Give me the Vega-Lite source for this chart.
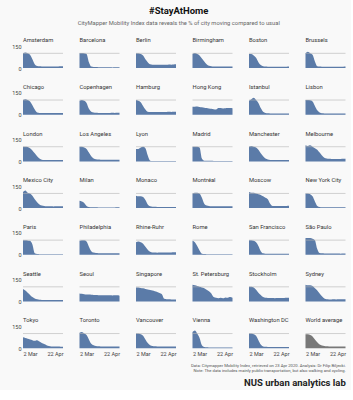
{
"$schema": "https://vega.github.io/schema/vega-lite/v6.json",
"background": "#f9f9f9",
"padding": {"left": 11, "top": 5, "right": 5, "bottom": 2},
"title": {"text": "#StayAtHome", "subtitle": "CityMapper Mobility Index data reveals the % of city moving compared to usual", "anchor": "middle", "font": "Roboto", "fontSize": 9.5, "fontWeight": "bold", "color": "#111", "subtitleFont": "Roboto", "subtitleFontSize": 5.8, "subtitleColor": "#666", "subtitlePadding": 5, "offset": 11},
"config": {"view": {"stroke": null}, "font": "Roboto"},
"vconcat": [{
"data": {"values": [
{"c":"Amsterdam","d":"2020-03-02","v":100},{"c":"Amsterdam","d":"2020-03-05","v":105},{"c":"Amsterdam","d":"2020-03-08","v":100},{"c":"Amsterdam","d":"2020-03-11","v":90},{"c":"Amsterdam","d":"2020-03-14","v":60},{"c":"Amsterdam","d":"2020-03-17","v":25},{"c":"Amsterdam","d":"2020-03-20","v":14},{"c":"Amsterdam","d":"2020-03-23","v":12},{"c":"Amsterdam","d":"2020-03-26","v":11},{"c":"Amsterdam","d":"2020-03-29","v":10},{"c":"Amsterdam","d":"2020-04-01","v":11},{"c":"Amsterdam","d":"2020-04-04","v":10},{"c":"Amsterdam","d":"2020-04-07","v":11},{"c":"Amsterdam","d":"2020-04-10","v":10},{"c":"Amsterdam","d":"2020-04-13","v":11},{"c":"Amsterdam","d":"2020-04-16","v":11},{"c":"Amsterdam","d":"2020-04-19","v":12},{"c":"Amsterdam","d":"2020-04-22","v":12},
{"c":"Barcelona","d":"2020-03-02","v":100},{"c":"Barcelona","d":"2020-03-05","v":102},{"c":"Barcelona","d":"2020-03-08","v":100},{"c":"Barcelona","d":"2020-03-11","v":95},{"c":"Barcelona","d":"2020-03-14","v":40},{"c":"Barcelona","d":"2020-03-17","v":10},{"c":"Barcelona","d":"2020-03-20","v":7},{"c":"Barcelona","d":"2020-03-23","v":6},{"c":"Barcelona","d":"2020-03-26","v":5},{"c":"Barcelona","d":"2020-03-29","v":5},{"c":"Barcelona","d":"2020-04-01","v":5},{"c":"Barcelona","d":"2020-04-04","v":5},{"c":"Barcelona","d":"2020-04-07","v":5},{"c":"Barcelona","d":"2020-04-10","v":5},{"c":"Barcelona","d":"2020-04-13","v":4},{"c":"Barcelona","d":"2020-04-16","v":5},{"c":"Barcelona","d":"2020-04-19","v":5},{"c":"Barcelona","d":"2020-04-22","v":5},
{"c":"Berlin","d":"2020-03-02","v":100},{"c":"Berlin","d":"2020-03-05","v":100},{"c":"Berlin","d":"2020-03-08","v":95},{"c":"Berlin","d":"2020-03-11","v":85},{"c":"Berlin","d":"2020-03-14","v":60},{"c":"Berlin","d":"2020-03-17","v":40},{"c":"Berlin","d":"2020-03-20","v":25},{"c":"Berlin","d":"2020-03-23","v":22},{"c":"Berlin","d":"2020-03-26","v":22},{"c":"Berlin","d":"2020-03-29","v":22},{"c":"Berlin","d":"2020-04-01","v":23},{"c":"Berlin","d":"2020-04-04","v":22},{"c":"Berlin","d":"2020-04-07","v":23},{"c":"Berlin","d":"2020-04-10","v":22},{"c":"Berlin","d":"2020-04-13","v":24},{"c":"Berlin","d":"2020-04-16","v":23},{"c":"Berlin","d":"2020-04-19","v":24},{"c":"Berlin","d":"2020-04-22","v":25},
{"c":"Birmingham","d":"2020-03-02","v":95},{"c":"Birmingham","d":"2020-03-05","v":102},{"c":"Birmingham","d":"2020-03-08","v":95},{"c":"Birmingham","d":"2020-03-11","v":85},{"c":"Birmingham","d":"2020-03-14","v":65},{"c":"Birmingham","d":"2020-03-17","v":45},{"c":"Birmingham","d":"2020-03-20","v":25},{"c":"Birmingham","d":"2020-03-23","v":15},{"c":"Birmingham","d":"2020-03-26","v":12},{"c":"Birmingham","d":"2020-03-29","v":10},{"c":"Birmingham","d":"2020-04-01","v":10},{"c":"Birmingham","d":"2020-04-04","v":10},{"c":"Birmingham","d":"2020-04-07","v":10},{"c":"Birmingham","d":"2020-04-10","v":10},{"c":"Birmingham","d":"2020-04-13","v":10},{"c":"Birmingham","d":"2020-04-16","v":10},{"c":"Birmingham","d":"2020-04-19","v":11},{"c":"Birmingham","d":"2020-04-22","v":11},
{"c":"Boston","d":"2020-03-02","v":95},{"c":"Boston","d":"2020-03-05","v":95},{"c":"Boston","d":"2020-03-08","v":85},{"c":"Boston","d":"2020-03-11","v":70},{"c":"Boston","d":"2020-03-14","v":40},{"c":"Boston","d":"2020-03-17","v":20},{"c":"Boston","d":"2020-03-20","v":12},{"c":"Boston","d":"2020-03-23","v":10},{"c":"Boston","d":"2020-03-26","v":9},{"c":"Boston","d":"2020-03-29","v":9},{"c":"Boston","d":"2020-04-01","v":9},{"c":"Boston","d":"2020-04-04","v":9},{"c":"Boston","d":"2020-04-07","v":9},{"c":"Boston","d":"2020-04-10","v":9},{"c":"Boston","d":"2020-04-13","v":9},{"c":"Boston","d":"2020-04-16","v":9},{"c":"Boston","d":"2020-04-19","v":9},{"c":"Boston","d":"2020-04-22","v":10},
{"c":"Brussels","d":"2020-03-02","v":100},{"c":"Brussels","d":"2020-03-05","v":110},{"c":"Brussels","d":"2020-03-08","v":100},{"c":"Brussels","d":"2020-03-11","v":90},{"c":"Brussels","d":"2020-03-14","v":45},{"c":"Brussels","d":"2020-03-17","v":12},{"c":"Brussels","d":"2020-03-20","v":10},{"c":"Brussels","d":"2020-03-23","v":9},{"c":"Brussels","d":"2020-03-26","v":9},{"c":"Brussels","d":"2020-03-29","v":9},{"c":"Brussels","d":"2020-04-01","v":9},{"c":"Brussels","d":"2020-04-04","v":9},{"c":"Brussels","d":"2020-04-07","v":9},{"c":"Brussels","d":"2020-04-10","v":9},{"c":"Brussels","d":"2020-04-13","v":9},{"c":"Brussels","d":"2020-04-16","v":9},{"c":"Brussels","d":"2020-04-19","v":9},{"c":"Brussels","d":"2020-04-22","v":10},
{"c":"Chicago","d":"2020-03-02","v":100},{"c":"Chicago","d":"2020-03-05","v":105},{"c":"Chicago","d":"2020-03-08","v":100},{"c":"Chicago","d":"2020-03-11","v":90},{"c":"Chicago","d":"2020-03-14","v":65},{"c":"Chicago","d":"2020-03-17","v":35},{"c":"Chicago","d":"2020-03-20","v":15},{"c":"Chicago","d":"2020-03-23","v":12},{"c":"Chicago","d":"2020-03-26","v":12},{"c":"Chicago","d":"2020-03-29","v":11},{"c":"Chicago","d":"2020-04-01","v":11},{"c":"Chicago","d":"2020-04-04","v":11},{"c":"Chicago","d":"2020-04-07","v":11},{"c":"Chicago","d":"2020-04-10","v":11},{"c":"Chicago","d":"2020-04-13","v":11},{"c":"Chicago","d":"2020-04-16","v":11},{"c":"Chicago","d":"2020-04-19","v":12},{"c":"Chicago","d":"2020-04-22","v":12},
{"c":"Copenhagen","d":"2020-03-02","v":95},{"c":"Copenhagen","d":"2020-03-05","v":100},{"c":"Copenhagen","d":"2020-03-08","v":95},{"c":"Copenhagen","d":"2020-03-11","v":80},{"c":"Copenhagen","d":"2020-03-14","v":40},{"c":"Copenhagen","d":"2020-03-17","v":20},{"c":"Copenhagen","d":"2020-03-20","v":15},{"c":"Copenhagen","d":"2020-03-23","v":13},{"c":"Copenhagen","d":"2020-03-26","v":12},{"c":"Copenhagen","d":"2020-03-29","v":12},{"c":"Copenhagen","d":"2020-04-01","v":12},{"c":"Copenhagen","d":"2020-04-04","v":12},{"c":"Copenhagen","d":"2020-04-07","v":12},{"c":"Copenhagen","d":"2020-04-10","v":12},{"c":"Copenhagen","d":"2020-04-13","v":13},{"c":"Copenhagen","d":"2020-04-16","v":12},{"c":"Copenhagen","d":"2020-04-19","v":13},{"c":"Copenhagen","d":"2020-04-22","v":13},
{"c":"Hamburg","d":"2020-03-02","v":100},{"c":"Hamburg","d":"2020-03-05","v":95},{"c":"Hamburg","d":"2020-03-08","v":85},{"c":"Hamburg","d":"2020-03-11","v":60},{"c":"Hamburg","d":"2020-03-14","v":35},{"c":"Hamburg","d":"2020-03-17","v":20},{"c":"Hamburg","d":"2020-03-20","v":18},{"c":"Hamburg","d":"2020-03-23","v":18},{"c":"Hamburg","d":"2020-03-26","v":18},{"c":"Hamburg","d":"2020-03-29","v":19},{"c":"Hamburg","d":"2020-04-01","v":19},{"c":"Hamburg","d":"2020-04-04","v":18},{"c":"Hamburg","d":"2020-04-07","v":19},{"c":"Hamburg","d":"2020-04-10","v":19},{"c":"Hamburg","d":"2020-04-13","v":20},{"c":"Hamburg","d":"2020-04-16","v":19},{"c":"Hamburg","d":"2020-04-19","v":20},{"c":"Hamburg","d":"2020-04-22","v":20},
{"c":"Hong Kong","d":"2020-03-02","v":55},{"c":"Hong Kong","d":"2020-03-05","v":55},{"c":"Hong Kong","d":"2020-03-08","v":56},{"c":"Hong Kong","d":"2020-03-11","v":53},{"c":"Hong Kong","d":"2020-03-14","v":50},{"c":"Hong Kong","d":"2020-03-17","v":48},{"c":"Hong Kong","d":"2020-03-20","v":45},{"c":"Hong Kong","d":"2020-03-23","v":42},{"c":"Hong Kong","d":"2020-03-26","v":40},{"c":"Hong Kong","d":"2020-03-29","v":38},{"c":"Hong Kong","d":"2020-04-01","v":35},{"c":"Hong Kong","d":"2020-04-04","v":45},{"c":"Hong Kong","d":"2020-04-07","v":45},{"c":"Hong Kong","d":"2020-04-10","v":43},{"c":"Hong Kong","d":"2020-04-13","v":44},{"c":"Hong Kong","d":"2020-04-16","v":45},{"c":"Hong Kong","d":"2020-04-19","v":45},{"c":"Hong Kong","d":"2020-04-22","v":44},
{"c":"Istanbul","d":"2020-03-02","v":95},{"c":"Istanbul","d":"2020-03-05","v":105},{"c":"Istanbul","d":"2020-03-08","v":115},{"c":"Istanbul","d":"2020-03-11","v":100},{"c":"Istanbul","d":"2020-03-14","v":80},{"c":"Istanbul","d":"2020-03-17","v":45},{"c":"Istanbul","d":"2020-03-20","v":20},{"c":"Istanbul","d":"2020-03-23","v":12},{"c":"Istanbul","d":"2020-03-26","v":10},{"c":"Istanbul","d":"2020-03-29","v":9},{"c":"Istanbul","d":"2020-04-01","v":9},{"c":"Istanbul","d":"2020-04-04","v":9},{"c":"Istanbul","d":"2020-04-07","v":8},{"c":"Istanbul","d":"2020-04-10","v":9},{"c":"Istanbul","d":"2020-04-13","v":9},{"c":"Istanbul","d":"2020-04-16","v":9},{"c":"Istanbul","d":"2020-04-19","v":8},{"c":"Istanbul","d":"2020-04-22","v":9},
{"c":"Lisbon","d":"2020-03-02","v":100},{"c":"Lisbon","d":"2020-03-05","v":100},{"c":"Lisbon","d":"2020-03-08","v":98},{"c":"Lisbon","d":"2020-03-11","v":90},{"c":"Lisbon","d":"2020-03-14","v":60},{"c":"Lisbon","d":"2020-03-17","v":30},{"c":"Lisbon","d":"2020-03-20","v":15},{"c":"Lisbon","d":"2020-03-23","v":10},{"c":"Lisbon","d":"2020-03-26","v":9},{"c":"Lisbon","d":"2020-03-29","v":9},{"c":"Lisbon","d":"2020-04-01","v":9},{"c":"Lisbon","d":"2020-04-04","v":8},{"c":"Lisbon","d":"2020-04-07","v":9},{"c":"Lisbon","d":"2020-04-10","v":9},{"c":"Lisbon","d":"2020-04-13","v":9},{"c":"Lisbon","d":"2020-04-16","v":9},{"c":"Lisbon","d":"2020-04-19","v":9},{"c":"Lisbon","d":"2020-04-22","v":9},
{"c":"London","d":"2020-03-02","v":100},{"c":"London","d":"2020-03-05","v":100},{"c":"London","d":"2020-03-08","v":98},{"c":"London","d":"2020-03-11","v":90},{"c":"London","d":"2020-03-14","v":75},{"c":"London","d":"2020-03-17","v":55},{"c":"London","d":"2020-03-20","v":35},{"c":"London","d":"2020-03-23","v":20},{"c":"London","d":"2020-03-26","v":12},{"c":"London","d":"2020-03-29","v":10},{"c":"London","d":"2020-04-01","v":10},{"c":"London","d":"2020-04-04","v":10},{"c":"London","d":"2020-04-07","v":10},{"c":"London","d":"2020-04-10","v":10},{"c":"London","d":"2020-04-13","v":10},{"c":"London","d":"2020-04-16","v":10},{"c":"London","d":"2020-04-19","v":10},{"c":"London","d":"2020-04-22","v":10},
{"c":"Los Angeles","d":"2020-03-02","v":100},{"c":"Los Angeles","d":"2020-03-05","v":100},{"c":"Los Angeles","d":"2020-03-08","v":95},{"c":"Los Angeles","d":"2020-03-11","v":85},{"c":"Los Angeles","d":"2020-03-14","v":60},{"c":"Los Angeles","d":"2020-03-17","v":35},{"c":"Los Angeles","d":"2020-03-20","v":20},{"c":"Los Angeles","d":"2020-03-23","v":15},{"c":"Los Angeles","d":"2020-03-26","v":13},{"c":"Los Angeles","d":"2020-03-29","v":12},{"c":"Los Angeles","d":"2020-04-01","v":12},{"c":"Los Angeles","d":"2020-04-04","v":12},{"c":"Los Angeles","d":"2020-04-07","v":12},{"c":"Los Angeles","d":"2020-04-10","v":12},{"c":"Los Angeles","d":"2020-04-13","v":12},{"c":"Los Angeles","d":"2020-04-16","v":12},{"c":"Los Angeles","d":"2020-04-19","v":12},{"c":"Los Angeles","d":"2020-04-22","v":12},
{"c":"Lyon","d":"2020-03-02","v":85},{"c":"Lyon","d":"2020-03-05","v":85},{"c":"Lyon","d":"2020-03-08","v":95},{"c":"Lyon","d":"2020-03-11","v":100},{"c":"Lyon","d":"2020-03-14","v":90},{"c":"Lyon","d":"2020-03-17","v":40},{"c":"Lyon","d":"2020-03-20","v":5},{"c":"Lyon","d":"2020-03-23","v":3},{"c":"Lyon","d":"2020-03-26","v":3},{"c":"Lyon","d":"2020-03-29","v":3},{"c":"Lyon","d":"2020-04-01","v":3},{"c":"Lyon","d":"2020-04-04","v":3},{"c":"Lyon","d":"2020-04-07","v":3},{"c":"Lyon","d":"2020-04-10","v":3},{"c":"Lyon","d":"2020-04-13","v":3},{"c":"Lyon","d":"2020-04-16","v":3},{"c":"Lyon","d":"2020-04-19","v":3},{"c":"Lyon","d":"2020-04-22","v":3},
{"c":"Madrid","d":"2020-03-02","v":100},{"c":"Madrid","d":"2020-03-05","v":100},{"c":"Madrid","d":"2020-03-08","v":100},{"c":"Madrid","d":"2020-03-11","v":95},{"c":"Madrid","d":"2020-03-14","v":20},{"c":"Madrid","d":"2020-03-17","v":5},{"c":"Madrid","d":"2020-03-20","v":4},{"c":"Madrid","d":"2020-03-23","v":4},{"c":"Madrid","d":"2020-03-26","v":4},{"c":"Madrid","d":"2020-03-29","v":3},{"c":"Madrid","d":"2020-04-01","v":3},{"c":"Madrid","d":"2020-04-04","v":3},{"c":"Madrid","d":"2020-04-07","v":3},{"c":"Madrid","d":"2020-04-10","v":3},{"c":"Madrid","d":"2020-04-13","v":3},{"c":"Madrid","d":"2020-04-16","v":3},{"c":"Madrid","d":"2020-04-19","v":3},{"c":"Madrid","d":"2020-04-22","v":3},
{"c":"Manchester","d":"2020-03-02","v":100},{"c":"Manchester","d":"2020-03-05","v":105},{"c":"Manchester","d":"2020-03-08","v":100},{"c":"Manchester","d":"2020-03-11","v":95},{"c":"Manchester","d":"2020-03-14","v":80},{"c":"Manchester","d":"2020-03-17","v":55},{"c":"Manchester","d":"2020-03-20","v":35},{"c":"Manchester","d":"2020-03-23","v":20},{"c":"Manchester","d":"2020-03-26","v":13},{"c":"Manchester","d":"2020-03-29","v":10},{"c":"Manchester","d":"2020-04-01","v":10},{"c":"Manchester","d":"2020-04-04","v":10},{"c":"Manchester","d":"2020-04-07","v":10},{"c":"Manchester","d":"2020-04-10","v":10},{"c":"Manchester","d":"2020-04-13","v":10},{"c":"Manchester","d":"2020-04-16","v":10},{"c":"Manchester","d":"2020-04-19","v":10},{"c":"Manchester","d":"2020-04-22","v":10},
{"c":"Melbourne","d":"2020-03-02","v":110},{"c":"Melbourne","d":"2020-03-05","v":105},{"c":"Melbourne","d":"2020-03-08","v":110},{"c":"Melbourne","d":"2020-03-11","v":100},{"c":"Melbourne","d":"2020-03-14","v":90},{"c":"Melbourne","d":"2020-03-17","v":80},{"c":"Melbourne","d":"2020-03-20","v":60},{"c":"Melbourne","d":"2020-03-23","v":40},{"c":"Melbourne","d":"2020-03-26","v":25},{"c":"Melbourne","d":"2020-03-29","v":20},{"c":"Melbourne","d":"2020-04-01","v":18},{"c":"Melbourne","d":"2020-04-04","v":17},{"c":"Melbourne","d":"2020-04-07","v":17},{"c":"Melbourne","d":"2020-04-10","v":17},{"c":"Melbourne","d":"2020-04-13","v":17},{"c":"Melbourne","d":"2020-04-16","v":17},{"c":"Melbourne","d":"2020-04-19","v":18},{"c":"Melbourne","d":"2020-04-22","v":18},
{"c":"Mexico City","d":"2020-03-02","v":110},{"c":"Mexico City","d":"2020-03-05","v":120},{"c":"Mexico City","d":"2020-03-08","v":105},{"c":"Mexico City","d":"2020-03-11","v":100},{"c":"Mexico City","d":"2020-03-14","v":85},{"c":"Mexico City","d":"2020-03-17","v":60},{"c":"Mexico City","d":"2020-03-20","v":40},{"c":"Mexico City","d":"2020-03-23","v":25},{"c":"Mexico City","d":"2020-03-26","v":18},{"c":"Mexico City","d":"2020-03-29","v":15},{"c":"Mexico City","d":"2020-04-01","v":13},{"c":"Mexico City","d":"2020-04-04","v":12},{"c":"Mexico City","d":"2020-04-07","v":12},{"c":"Mexico City","d":"2020-04-10","v":11},{"c":"Mexico City","d":"2020-04-13","v":12},{"c":"Mexico City","d":"2020-04-16","v":12},{"c":"Mexico City","d":"2020-04-19","v":12},{"c":"Mexico City","d":"2020-04-22","v":12},
{"c":"Milan","d":"2020-03-02","v":50},{"c":"Milan","d":"2020-03-05","v":45},{"c":"Milan","d":"2020-03-08","v":35},{"c":"Milan","d":"2020-03-11","v":15},{"c":"Milan","d":"2020-03-14","v":7},{"c":"Milan","d":"2020-03-17","v":5},{"c":"Milan","d":"2020-03-20","v":5},{"c":"Milan","d":"2020-03-23","v":5},{"c":"Milan","d":"2020-03-26","v":4},{"c":"Milan","d":"2020-03-29","v":4},{"c":"Milan","d":"2020-04-01","v":4},{"c":"Milan","d":"2020-04-04","v":4},{"c":"Milan","d":"2020-04-07","v":4},{"c":"Milan","d":"2020-04-10","v":4},{"c":"Milan","d":"2020-04-13","v":4},{"c":"Milan","d":"2020-04-16","v":4},{"c":"Milan","d":"2020-04-19","v":5},{"c":"Milan","d":"2020-04-22","v":5},
{"c":"Monaco","d":"2020-03-02","v":85},{"c":"Monaco","d":"2020-03-05","v":80},{"c":"Monaco","d":"2020-03-08","v":80},{"c":"Monaco","d":"2020-03-11","v":75},{"c":"Monaco","d":"2020-03-14","v":55},{"c":"Monaco","d":"2020-03-17","v":25},{"c":"Monaco","d":"2020-03-20","v":12},{"c":"Monaco","d":"2020-03-23","v":10},{"c":"Monaco","d":"2020-03-26","v":9},{"c":"Monaco","d":"2020-03-29","v":8},{"c":"Monaco","d":"2020-04-01","v":7},{"c":"Monaco","d":"2020-04-04","v":7},{"c":"Monaco","d":"2020-04-07","v":7},{"c":"Monaco","d":"2020-04-10","v":7},{"c":"Monaco","d":"2020-04-13","v":7},{"c":"Monaco","d":"2020-04-16","v":7},{"c":"Monaco","d":"2020-04-19","v":7},{"c":"Monaco","d":"2020-04-22","v":8},
{"c":"Montréal","d":"2020-03-02","v":100},{"c":"Montréal","d":"2020-03-05","v":105},{"c":"Montréal","d":"2020-03-08","v":105},{"c":"Montréal","d":"2020-03-11","v":100},{"c":"Montréal","d":"2020-03-14","v":70},{"c":"Montréal","d":"2020-03-17","v":30},{"c":"Montréal","d":"2020-03-20","v":18},{"c":"Montréal","d":"2020-03-23","v":15},{"c":"Montréal","d":"2020-03-26","v":13},{"c":"Montréal","d":"2020-03-29","v":12},{"c":"Montréal","d":"2020-04-01","v":12},{"c":"Montréal","d":"2020-04-04","v":12},{"c":"Montréal","d":"2020-04-07","v":12},{"c":"Montréal","d":"2020-04-10","v":12},{"c":"Montréal","d":"2020-04-13","v":12},{"c":"Montréal","d":"2020-04-16","v":12},{"c":"Montréal","d":"2020-04-19","v":12},{"c":"Montréal","d":"2020-04-22","v":12},
{"c":"Moscow","d":"2020-03-02","v":110},{"c":"Moscow","d":"2020-03-05","v":105},{"c":"Moscow","d":"2020-03-08","v":105},{"c":"Moscow","d":"2020-03-11","v":100},{"c":"Moscow","d":"2020-03-14","v":95},{"c":"Moscow","d":"2020-03-17","v":90},{"c":"Moscow","d":"2020-03-20","v":80},{"c":"Moscow","d":"2020-03-23","v":70},{"c":"Moscow","d":"2020-03-26","v":60},{"c":"Moscow","d":"2020-03-29","v":30},{"c":"Moscow","d":"2020-04-01","v":15},{"c":"Moscow","d":"2020-04-04","v":15},{"c":"Moscow","d":"2020-04-07","v":14},{"c":"Moscow","d":"2020-04-10","v":14},{"c":"Moscow","d":"2020-04-13","v":15},{"c":"Moscow","d":"2020-04-16","v":15},{"c":"Moscow","d":"2020-04-19","v":15},{"c":"Moscow","d":"2020-04-22","v":16},
{"c":"New York City","d":"2020-03-02","v":100},{"c":"New York City","d":"2020-03-05","v":100},{"c":"New York City","d":"2020-03-08","v":95},{"c":"New York City","d":"2020-03-11","v":80},{"c":"New York City","d":"2020-03-14","v":45},{"c":"New York City","d":"2020-03-17","v":15},{"c":"New York City","d":"2020-03-20","v":8},{"c":"New York City","d":"2020-03-23","v":6},{"c":"New York City","d":"2020-03-26","v":5},{"c":"New York City","d":"2020-03-29","v":5},{"c":"New York City","d":"2020-04-01","v":5},{"c":"New York City","d":"2020-04-04","v":5},{"c":"New York City","d":"2020-04-07","v":5},{"c":"New York City","d":"2020-04-10","v":5},{"c":"New York City","d":"2020-04-13","v":5},{"c":"New York City","d":"2020-04-16","v":5},{"c":"New York City","d":"2020-04-19","v":5},{"c":"New York City","d":"2020-04-22","v":5},
{"c":"Paris","d":"2020-03-02","v":100},{"c":"Paris","d":"2020-03-05","v":100},{"c":"Paris","d":"2020-03-08","v":98},{"c":"Paris","d":"2020-03-11","v":95},{"c":"Paris","d":"2020-03-14","v":70},{"c":"Paris","d":"2020-03-17","v":10},{"c":"Paris","d":"2020-03-20","v":5},{"c":"Paris","d":"2020-03-23","v":4},{"c":"Paris","d":"2020-03-26","v":4},{"c":"Paris","d":"2020-03-29","v":4},{"c":"Paris","d":"2020-04-01","v":4},{"c":"Paris","d":"2020-04-04","v":4},{"c":"Paris","d":"2020-04-07","v":4},{"c":"Paris","d":"2020-04-10","v":4},{"c":"Paris","d":"2020-04-13","v":4},{"c":"Paris","d":"2020-04-16","v":4},{"c":"Paris","d":"2020-04-19","v":4},{"c":"Paris","d":"2020-04-22","v":4},
{"c":"Philadelphia","d":"2020-03-02","v":95},{"c":"Philadelphia","d":"2020-03-05","v":100},{"c":"Philadelphia","d":"2020-03-08","v":100},{"c":"Philadelphia","d":"2020-03-11","v":90},{"c":"Philadelphia","d":"2020-03-14","v":55},{"c":"Philadelphia","d":"2020-03-17","v":25},{"c":"Philadelphia","d":"2020-03-20","v":15},{"c":"Philadelphia","d":"2020-03-23","v":12},{"c":"Philadelphia","d":"2020-03-26","v":11},{"c":"Philadelphia","d":"2020-03-29","v":10},{"c":"Philadelphia","d":"2020-04-01","v":10},{"c":"Philadelphia","d":"2020-04-04","v":10},{"c":"Philadelphia","d":"2020-04-07","v":10},{"c":"Philadelphia","d":"2020-04-10","v":10},{"c":"Philadelphia","d":"2020-04-13","v":10},{"c":"Philadelphia","d":"2020-04-16","v":10},{"c":"Philadelphia","d":"2020-04-19","v":10},{"c":"Philadelphia","d":"2020-04-22","v":10},
{"c":"Rhine-Ruhr","d":"2020-03-02","v":85},{"c":"Rhine-Ruhr","d":"2020-03-05","v":90},{"c":"Rhine-Ruhr","d":"2020-03-08","v":85},{"c":"Rhine-Ruhr","d":"2020-03-11","v":75},{"c":"Rhine-Ruhr","d":"2020-03-14","v":55},{"c":"Rhine-Ruhr","d":"2020-03-17","v":35},{"c":"Rhine-Ruhr","d":"2020-03-20","v":20},{"c":"Rhine-Ruhr","d":"2020-03-23","v":15},{"c":"Rhine-Ruhr","d":"2020-03-26","v":15},{"c":"Rhine-Ruhr","d":"2020-03-29","v":14},{"c":"Rhine-Ruhr","d":"2020-04-01","v":15},{"c":"Rhine-Ruhr","d":"2020-04-04","v":15},{"c":"Rhine-Ruhr","d":"2020-04-07","v":15},{"c":"Rhine-Ruhr","d":"2020-04-10","v":16},{"c":"Rhine-Ruhr","d":"2020-04-13","v":15},{"c":"Rhine-Ruhr","d":"2020-04-16","v":16},{"c":"Rhine-Ruhr","d":"2020-04-19","v":17},{"c":"Rhine-Ruhr","d":"2020-04-22","v":18},
{"c":"Rome","d":"2020-03-02","v":95},{"c":"Rome","d":"2020-03-05","v":85},{"c":"Rome","d":"2020-03-08","v":60},{"c":"Rome","d":"2020-03-11","v":30},{"c":"Rome","d":"2020-03-14","v":8},{"c":"Rome","d":"2020-03-17","v":5},{"c":"Rome","d":"2020-03-20","v":4},{"c":"Rome","d":"2020-03-23","v":4},{"c":"Rome","d":"2020-03-26","v":4},{"c":"Rome","d":"2020-03-29","v":4},{"c":"Rome","d":"2020-04-01","v":4},{"c":"Rome","d":"2020-04-04","v":4},{"c":"Rome","d":"2020-04-07","v":4},{"c":"Rome","d":"2020-04-10","v":4},{"c":"Rome","d":"2020-04-13","v":4},{"c":"Rome","d":"2020-04-16","v":4},{"c":"Rome","d":"2020-04-19","v":4},{"c":"Rome","d":"2020-04-22","v":4},
{"c":"San Francisco","d":"2020-03-02","v":100},{"c":"San Francisco","d":"2020-03-05","v":100},{"c":"San Francisco","d":"2020-03-08","v":95},{"c":"San Francisco","d":"2020-03-11","v":85},{"c":"San Francisco","d":"2020-03-14","v":60},{"c":"San Francisco","d":"2020-03-17","v":25},{"c":"San Francisco","d":"2020-03-20","v":10},{"c":"San Francisco","d":"2020-03-23","v":8},{"c":"San Francisco","d":"2020-03-26","v":7},{"c":"San Francisco","d":"2020-03-29","v":7},{"c":"San Francisco","d":"2020-04-01","v":7},{"c":"San Francisco","d":"2020-04-04","v":7},{"c":"San Francisco","d":"2020-04-07","v":7},{"c":"San Francisco","d":"2020-04-10","v":7},{"c":"San Francisco","d":"2020-04-13","v":7},{"c":"San Francisco","d":"2020-04-16","v":7},{"c":"San Francisco","d":"2020-04-19","v":7},{"c":"San Francisco","d":"2020-04-22","v":7},
{"c":"São Paulo","d":"2020-03-02","v":115},{"c":"São Paulo","d":"2020-03-05","v":115},{"c":"São Paulo","d":"2020-03-08","v":115},{"c":"São Paulo","d":"2020-03-11","v":110},{"c":"São Paulo","d":"2020-03-14","v":100},{"c":"São Paulo","d":"2020-03-17","v":40},{"c":"São Paulo","d":"2020-03-20","v":12},{"c":"São Paulo","d":"2020-03-23","v":10},{"c":"São Paulo","d":"2020-03-26","v":9},{"c":"São Paulo","d":"2020-03-29","v":9},{"c":"São Paulo","d":"2020-04-01","v":9},{"c":"São Paulo","d":"2020-04-04","v":9},{"c":"São Paulo","d":"2020-04-07","v":9},{"c":"São Paulo","d":"2020-04-10","v":9},{"c":"São Paulo","d":"2020-04-13","v":9},{"c":"São Paulo","d":"2020-04-16","v":8},{"c":"São Paulo","d":"2020-04-19","v":9},{"c":"São Paulo","d":"2020-04-22","v":9},
{"c":"Seattle","d":"2020-03-02","v":85},{"c":"Seattle","d":"2020-03-05","v":75},{"c":"Seattle","d":"2020-03-08","v":60},{"c":"Seattle","d":"2020-03-11","v":45},{"c":"Seattle","d":"2020-03-14","v":30},{"c":"Seattle","d":"2020-03-17","v":20},{"c":"Seattle","d":"2020-03-20","v":15},{"c":"Seattle","d":"2020-03-23","v":12},{"c":"Seattle","d":"2020-03-26","v":11},{"c":"Seattle","d":"2020-03-29","v":10},{"c":"Seattle","d":"2020-04-01","v":10},{"c":"Seattle","d":"2020-04-04","v":10},{"c":"Seattle","d":"2020-04-07","v":10},{"c":"Seattle","d":"2020-04-10","v":10},{"c":"Seattle","d":"2020-04-13","v":10},{"c":"Seattle","d":"2020-04-16","v":10},{"c":"Seattle","d":"2020-04-19","v":10},{"c":"Seattle","d":"2020-04-22","v":10},
{"c":"Seoul","d":"2020-03-02","v":55},{"c":"Seoul","d":"2020-03-05","v":52},{"c":"Seoul","d":"2020-03-08","v":50},{"c":"Seoul","d":"2020-03-11","v":48},{"c":"Seoul","d":"2020-03-14","v":47},{"c":"Seoul","d":"2020-03-17","v":46},{"c":"Seoul","d":"2020-03-20","v":45},{"c":"Seoul","d":"2020-03-23","v":45},{"c":"Seoul","d":"2020-03-26","v":43},{"c":"Seoul","d":"2020-03-29","v":42},{"c":"Seoul","d":"2020-04-01","v":42},{"c":"Seoul","d":"2020-04-04","v":43},{"c":"Seoul","d":"2020-04-07","v":42},{"c":"Seoul","d":"2020-04-10","v":42},{"c":"Seoul","d":"2020-04-13","v":41},{"c":"Seoul","d":"2020-04-16","v":42},{"c":"Seoul","d":"2020-04-19","v":42},{"c":"Seoul","d":"2020-04-22","v":40},
{"c":"Singapore","d":"2020-03-02","v":95},{"c":"Singapore","d":"2020-03-05","v":95},{"c":"Singapore","d":"2020-03-08","v":92},{"c":"Singapore","d":"2020-03-11","v":90},{"c":"Singapore","d":"2020-03-14","v":85},{"c":"Singapore","d":"2020-03-17","v":82},{"c":"Singapore","d":"2020-03-20","v":78},{"c":"Singapore","d":"2020-03-23","v":75},{"c":"Singapore","d":"2020-03-26","v":70},{"c":"Singapore","d":"2020-03-29","v":65},{"c":"Singapore","d":"2020-04-01","v":58},{"c":"Singapore","d":"2020-04-04","v":50},{"c":"Singapore","d":"2020-04-07","v":18},{"c":"Singapore","d":"2020-04-10","v":15},{"c":"Singapore","d":"2020-04-13","v":15},{"c":"Singapore","d":"2020-04-16","v":14},{"c":"Singapore","d":"2020-04-19","v":14},{"c":"Singapore","d":"2020-04-22","v":14},
{"c":"St. Petersburg","d":"2020-03-02","v":115},{"c":"St. Petersburg","d":"2020-03-05","v":110},{"c":"St. Petersburg","d":"2020-03-08","v":105},{"c":"St. Petersburg","d":"2020-03-11","v":100},{"c":"St. Petersburg","d":"2020-03-14","v":95},{"c":"St. Petersburg","d":"2020-03-17","v":90},{"c":"St. Petersburg","d":"2020-03-20","v":80},{"c":"St. Petersburg","d":"2020-03-23","v":70},{"c":"St. Petersburg","d":"2020-03-26","v":55},{"c":"St. Petersburg","d":"2020-03-29","v":30},{"c":"St. Petersburg","d":"2020-04-01","v":25},{"c":"St. Petersburg","d":"2020-04-04","v":22},{"c":"St. Petersburg","d":"2020-04-07","v":25},{"c":"St. Petersburg","d":"2020-04-10","v":22},{"c":"St. Petersburg","d":"2020-04-13","v":28},{"c":"St. Petersburg","d":"2020-04-16","v":25},{"c":"St. Petersburg","d":"2020-04-19","v":30},{"c":"St. Petersburg","d":"2020-04-22","v":25},
{"c":"Stockholm","d":"2020-03-02","v":100},{"c":"Stockholm","d":"2020-03-05","v":100},{"c":"Stockholm","d":"2020-03-08","v":95},{"c":"Stockholm","d":"2020-03-11","v":80},{"c":"Stockholm","d":"2020-03-14","v":60},{"c":"Stockholm","d":"2020-03-17","v":45},{"c":"Stockholm","d":"2020-03-20","v":30},{"c":"Stockholm","d":"2020-03-23","v":25},{"c":"Stockholm","d":"2020-03-26","v":24},{"c":"Stockholm","d":"2020-03-29","v":24},{"c":"Stockholm","d":"2020-04-01","v":24},{"c":"Stockholm","d":"2020-04-04","v":23},{"c":"Stockholm","d":"2020-04-07","v":24},{"c":"Stockholm","d":"2020-04-10","v":24},{"c":"Stockholm","d":"2020-04-13","v":24},{"c":"Stockholm","d":"2020-04-16","v":24},{"c":"Stockholm","d":"2020-04-19","v":25},{"c":"Stockholm","d":"2020-04-22","v":26},
{"c":"Sydney","d":"2020-03-02","v":115},{"c":"Sydney","d":"2020-03-05","v":110},{"c":"Sydney","d":"2020-03-08","v":110},{"c":"Sydney","d":"2020-03-11","v":105},{"c":"Sydney","d":"2020-03-14","v":90},{"c":"Sydney","d":"2020-03-17","v":75},{"c":"Sydney","d":"2020-03-20","v":55},{"c":"Sydney","d":"2020-03-23","v":35},{"c":"Sydney","d":"2020-03-26","v":20},{"c":"Sydney","d":"2020-03-29","v":15},{"c":"Sydney","d":"2020-04-01","v":14},{"c":"Sydney","d":"2020-04-04","v":14},{"c":"Sydney","d":"2020-04-07","v":15},{"c":"Sydney","d":"2020-04-10","v":14},{"c":"Sydney","d":"2020-04-13","v":15},{"c":"Sydney","d":"2020-04-16","v":15},{"c":"Sydney","d":"2020-04-19","v":15},{"c":"Sydney","d":"2020-04-22","v":16},
{"c":"Tokyo","d":"2020-03-02","v":75},{"c":"Tokyo","d":"2020-03-05","v":70},{"c":"Tokyo","d":"2020-03-08","v":65},{"c":"Tokyo","d":"2020-03-11","v":60},{"c":"Tokyo","d":"2020-03-14","v":55},{"c":"Tokyo","d":"2020-03-17","v":50},{"c":"Tokyo","d":"2020-03-20","v":55},{"c":"Tokyo","d":"2020-03-23","v":45},{"c":"Tokyo","d":"2020-03-26","v":35},{"c":"Tokyo","d":"2020-03-29","v":28},{"c":"Tokyo","d":"2020-04-01","v":20},{"c":"Tokyo","d":"2020-04-04","v":15},{"c":"Tokyo","d":"2020-04-07","v":12},{"c":"Tokyo","d":"2020-04-10","v":12},{"c":"Tokyo","d":"2020-04-13","v":11},{"c":"Tokyo","d":"2020-04-16","v":11},{"c":"Tokyo","d":"2020-04-19","v":10},{"c":"Tokyo","d":"2020-04-22","v":10},
{"c":"Toronto","d":"2020-03-02","v":105},{"c":"Toronto","d":"2020-03-05","v":110},{"c":"Toronto","d":"2020-03-08","v":100},{"c":"Toronto","d":"2020-03-11","v":90},{"c":"Toronto","d":"2020-03-14","v":60},{"c":"Toronto","d":"2020-03-17","v":30},{"c":"Toronto","d":"2020-03-20","v":20},{"c":"Toronto","d":"2020-03-23","v":15},{"c":"Toronto","d":"2020-03-26","v":13},{"c":"Toronto","d":"2020-03-29","v":12},{"c":"Toronto","d":"2020-04-01","v":12},{"c":"Toronto","d":"2020-04-04","v":12},{"c":"Toronto","d":"2020-04-07","v":12},{"c":"Toronto","d":"2020-04-10","v":12},{"c":"Toronto","d":"2020-04-13","v":12},{"c":"Toronto","d":"2020-04-16","v":12},{"c":"Toronto","d":"2020-04-19","v":12},{"c":"Toronto","d":"2020-04-22","v":12},
{"c":"Vancouver","d":"2020-03-02","v":100},{"c":"Vancouver","d":"2020-03-05","v":100},{"c":"Vancouver","d":"2020-03-08","v":95},{"c":"Vancouver","d":"2020-03-11","v":85},{"c":"Vancouver","d":"2020-03-14","v":60},{"c":"Vancouver","d":"2020-03-17","v":35},{"c":"Vancouver","d":"2020-03-20","v":20},{"c":"Vancouver","d":"2020-03-23","v":15},{"c":"Vancouver","d":"2020-03-26","v":13},{"c":"Vancouver","d":"2020-03-29","v":12},{"c":"Vancouver","d":"2020-04-01","v":12},{"c":"Vancouver","d":"2020-04-04","v":12},{"c":"Vancouver","d":"2020-04-07","v":12},{"c":"Vancouver","d":"2020-04-10","v":12},{"c":"Vancouver","d":"2020-04-13","v":12},{"c":"Vancouver","d":"2020-04-16","v":12},{"c":"Vancouver","d":"2020-04-19","v":12},{"c":"Vancouver","d":"2020-04-22","v":12},
{"c":"Vienna","d":"2020-03-02","v":110},{"c":"Vienna","d":"2020-03-05","v":120},{"c":"Vienna","d":"2020-03-08","v":100},{"c":"Vienna","d":"2020-03-11","v":70},{"c":"Vienna","d":"2020-03-14","v":20},{"c":"Vienna","d":"2020-03-17","v":8},{"c":"Vienna","d":"2020-03-20","v":6},{"c":"Vienna","d":"2020-03-23","v":5},{"c":"Vienna","d":"2020-03-26","v":5},{"c":"Vienna","d":"2020-03-29","v":5},{"c":"Vienna","d":"2020-04-01","v":5},{"c":"Vienna","d":"2020-04-04","v":5},{"c":"Vienna","d":"2020-04-07","v":5},{"c":"Vienna","d":"2020-04-10","v":5},{"c":"Vienna","d":"2020-04-13","v":5},{"c":"Vienna","d":"2020-04-16","v":5},{"c":"Vienna","d":"2020-04-19","v":5},{"c":"Vienna","d":"2020-04-22","v":5},
{"c":"Washington DC","d":"2020-03-02","v":100},{"c":"Washington DC","d":"2020-03-05","v":100},{"c":"Washington DC","d":"2020-03-08","v":95},{"c":"Washington DC","d":"2020-03-11","v":85},{"c":"Washington DC","d":"2020-03-14","v":55},{"c":"Washington DC","d":"2020-03-17","v":25},{"c":"Washington DC","d":"2020-03-20","v":12},{"c":"Washington DC","d":"2020-03-23","v":10},{"c":"Washington DC","d":"2020-03-26","v":9},{"c":"Washington DC","d":"2020-03-29","v":8},{"c":"Washington DC","d":"2020-04-01","v":8},{"c":"Washington DC","d":"2020-04-04","v":8},{"c":"Washington DC","d":"2020-04-07","v":8},{"c":"Washington DC","d":"2020-04-10","v":8},{"c":"Washington DC","d":"2020-04-13","v":8},{"c":"Washington DC","d":"2020-04-16","v":8},{"c":"Washington DC","d":"2020-04-19","v":8},{"c":"Washington DC","d":"2020-04-22","v":8},
{"c":"World average","d":"2020-03-02","v":95},{"c":"World average","d":"2020-03-05","v":95},{"c":"World average","d":"2020-03-08","v":90},{"c":"World average","d":"2020-03-11","v":80},{"c":"World average","d":"2020-03-14","v":60},{"c":"World average","d":"2020-03-17","v":40},{"c":"World average","d":"2020-03-20","v":25},{"c":"World average","d":"2020-03-23","v":18},{"c":"World average","d":"2020-03-26","v":15},{"c":"World average","d":"2020-03-29","v":13},{"c":"World average","d":"2020-04-01","v":12},{"c":"World average","d":"2020-04-04","v":12},{"c":"World average","d":"2020-04-07","v":12},{"c":"World average","d":"2020-04-10","v":12},{"c":"World average","d":"2020-04-13","v":12},{"c":"World average","d":"2020-04-16","v":12},{"c":"World average","d":"2020-04-19","v":12},{"c":"World average","d":"2020-04-22","v":12}
]},
"title": {"text": ["Data: Citymapper Mobility Index, retrieved on 23 Apr 2020. Analysis: Dr Filip Biljecki.", "Note: The data includes mainly public transportation, but also walking and cycling."], "orient": "bottom", "anchor": "end", "fontSize": 4.2, "fontWeight": "normal", "color": "#555", "lineHeight": 5, "offset": 7, "subtitle": "NUS   urban analytics lab", "subtitleFontSize": 9.5, "subtitleFontWeight": "bold", "subtitleColor": "#222", "subtitlePadding": 5},
"columns": 6,
"bounds": "flush",
"facet": {"field": "c", "type": "nominal", "sort": ["Amsterdam","Barcelona","Berlin","Birmingham","Boston","Brussels","Chicago","Copenhagen","Hamburg","Hong Kong","Istanbul","Lisbon","London","Los Angeles","Lyon","Madrid","Manchester","Melbourne","Mexico City","Milan","Monaco","Montréal","Moscow","New York City","Paris","Philadelphia","Rhine-Ruhr","Rome","San Francisco","São Paulo","Seattle","Seoul","Singapore","St. Petersburg","Stockholm","Sydney","Tokyo","Toronto","Vancouver","Vienna","Washington DC","World average"], "header": {"title": null, "labelAnchor": "start", "labelFontSize": 5.8, "labelColor": "#333", "labelPadding": 3, "labelFont": "Roboto"}},
"spacing": {"column": 16.5, "row": 24.7},
"spec": {
"width": 40, "height": 22,
"layer": [
{"mark": {"type": "area", "interpolate": "monotone"},
 "encoding": {
 "x": {"field": "d", "type": "temporal", "scale": {"type": "utc", "domain": [{"year": 2020, "month": 3, "date": 2, "utc": true}, {"year": 2020, "month": 4, "date": 22, "utc": true}]}, "axis": {"title": null, "values": [{"year": 2020, "month": 3, "date": 2, "utc": true}, {"year": 2020, "month": 4, "date": 22, "utc": true}], "format": "%-d %b", "labelFlush": true, "labelFontSize": 5.5, "labelColor": "#444", "ticks": false, "domain": false, "grid": false, "labelPadding": 2}},
 "y": {"field": "v", "type": "quantitative", "scale": {"domain": [0, 150], "nice": false}, "axis": {"title": null, "values": [0, 100, 150], "labelOverlap": false, "labelFontSize": 5.5, "labelColor": "#444", "ticks": false, "domain": false, "grid": false, "labelPadding": 2}},
 "color": {"condition": {"test": "datum.c === 'World average'", "value": "#787878"}, "value": "#5b7ba8"}
 }},
{"transform": [{"aggregate": [{"op": "count", "as": "n"}], "groupby": ["c"]}],
 "mark": {"type": "rule", "color": "#b5b5b5", "strokeWidth": 0.6},
 "encoding": {"y": {"datum": 100}}}
]
}
}]
}
